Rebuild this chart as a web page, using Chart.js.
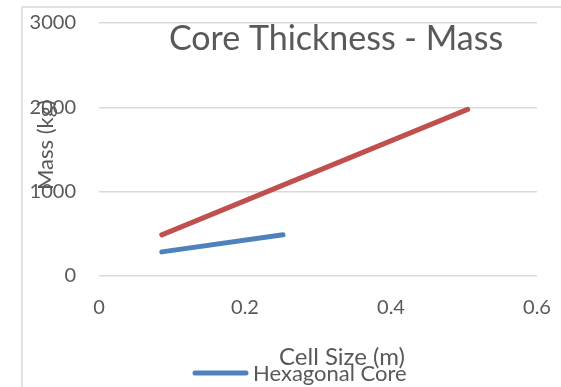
<!DOCTYPE html>
<html>
<head>
<meta charset="utf-8">
<script src="https://cdn.jsdelivr.net/npm/chart.js@4/dist/chart.umd.min.js"></script>
<style>
    html, body { margin: 0; padding: 0; background: #fff; }
    #wrap { width: 561px; height: 387px; position: relative; }
</style>
</head>
<body>
<div id="wrap"><canvas id="massChart" width="561" height="387"></canvas></div>
<script>
// Chart data
const chartTitle = 'Core Thickness - Mass';
const xAxisTitle = 'Cell Size (m)';
const yAxisTitle = 'Mass (kg)';

const hexCellSize = [0.086, 0.252];
const hexMass = [286, 488];

const squareCellSize = [0.086, 0.505];
const squareMass = [488, 1976];

const seriesNames = ['Hexagonal Core', 'Square Core'];
const seriesColors = ['#4F81BD', '#C0504D'];

const textColor = '#595959';
const gridColor = '#D9D9D9';
const fontFamily = 'Lato, "Open Sans", sans-serif';

Chart.defaults.font.family = fontFamily;
Chart.defaults.color = textColor;

function toPoints(xs, ys) {
    return xs.map((x, i) => ({ x: x, y: ys[i] }));
}

// Frame, title, axis titles and the single visible legend entry
const decorPlugin = {
    id: 'decor',
    beforeDraw(chart) {
        const c = chart.ctx;
        c.save();
        c.fillStyle = '#fff';
        c.fillRect(0, 0, chart.width, chart.height);
        c.strokeStyle = gridColor;
        c.lineWidth = 1.5;
        c.beginPath();
        c.moveTo(22, chart.height);
        c.lineTo(22, 7);
        c.lineTo(chart.width, 7);
        c.stroke();
        c.restore();
    },
    afterDraw(chart) {
        const c = chart.ctx;
        c.save();
        c.fillStyle = textColor;
        c.textBaseline = 'alphabetic';
        c.textAlign = 'center';

        c.font = '34px ' + fontFamily;
        c.fillText(chartTitle, 336, 50);

        c.font = '24px ' + fontFamily;
        c.fillText(xAxisTitle, 342, 365);

        c.font = '22px ' + fontFamily;
        c.save();
        c.translate(53, 145);
        c.rotate(-Math.PI / 2);
        c.fillText(yAxisTitle, 0, 0);
        c.restore();

        // legend: only the first entry is visible in the reference
        c.strokeStyle = seriesColors[0];
        c.lineWidth = 5;
        c.lineCap = 'round';
        c.beginPath();
        c.moveTo(195, 373);
        c.lineTo(246, 373);
        c.stroke();
        c.textAlign = 'left';
        c.fillText(seriesNames[0], 253, 381);
        c.restore();
    }
};

const ctx = document.getElementById('massChart');
new Chart(ctx, {
    type: 'line',
    data: {
        datasets: [{
            label: seriesNames[0],
            data: toPoints(hexCellSize, hexMass),
            borderColor: seriesColors[0],
            backgroundColor: seriesColors[0],
            borderWidth: 5,
            borderCapStyle: 'round',
            pointRadius: 0,
            fill: false,
            tension: 0
        }, {
            label: seriesNames[1],
            data: toPoints(squareCellSize, squareMass),
            borderColor: seriesColors[1],
            backgroundColor: seriesColors[1],
            borderWidth: 5,
            borderCapStyle: 'round',
            pointRadius: 0,
            fill: false,
            tension: 0
        }]
    },
    options: {
        responsive: false,
        animation: false,
        layout: {
            padding: { top: 23, right: 24, bottom: 0, left: 0 }
        },
        plugins: {
            legend: { display: false },
            title: { display: false },
            tooltip: { enabled: false }
        },
        scales: {
            x: {
                type: 'linear',
                min: 0,
                max: 0.6,
                ticks: {
                    stepSize: 0.2,
                    padding: 0,
                    font: { size: 20 },
                    color: textColor
                },
                // invisible tick marks only push the labels down
                grid: {
                    color: 'transparent',
                    tickColor: 'transparent',
                    drawTicks: true,
                    tickLength: 20
                },
                border: { display: false },
                afterFit(scale) { scale.height = 111; }
            },
            y: {
                min: 0,
                max: 3000,
                ticks: {
                    stepSize: 1000,
                    padding: 0,
                    font: { size: 20 },
                    color: textColor,
                    callback: value => String(value)
                },
                grid: {
                    color: gridColor,
                    lineWidth: 1.5,
                    tickColor: 'transparent',
                    drawTicks: true,
                    tickLength: 23
                },
                border: { display: false },
                afterFit(scale) { scale.width = 99; }
            }
        }
    },
    plugins: [decorPlugin]
});
</script>
</body>
</html>
